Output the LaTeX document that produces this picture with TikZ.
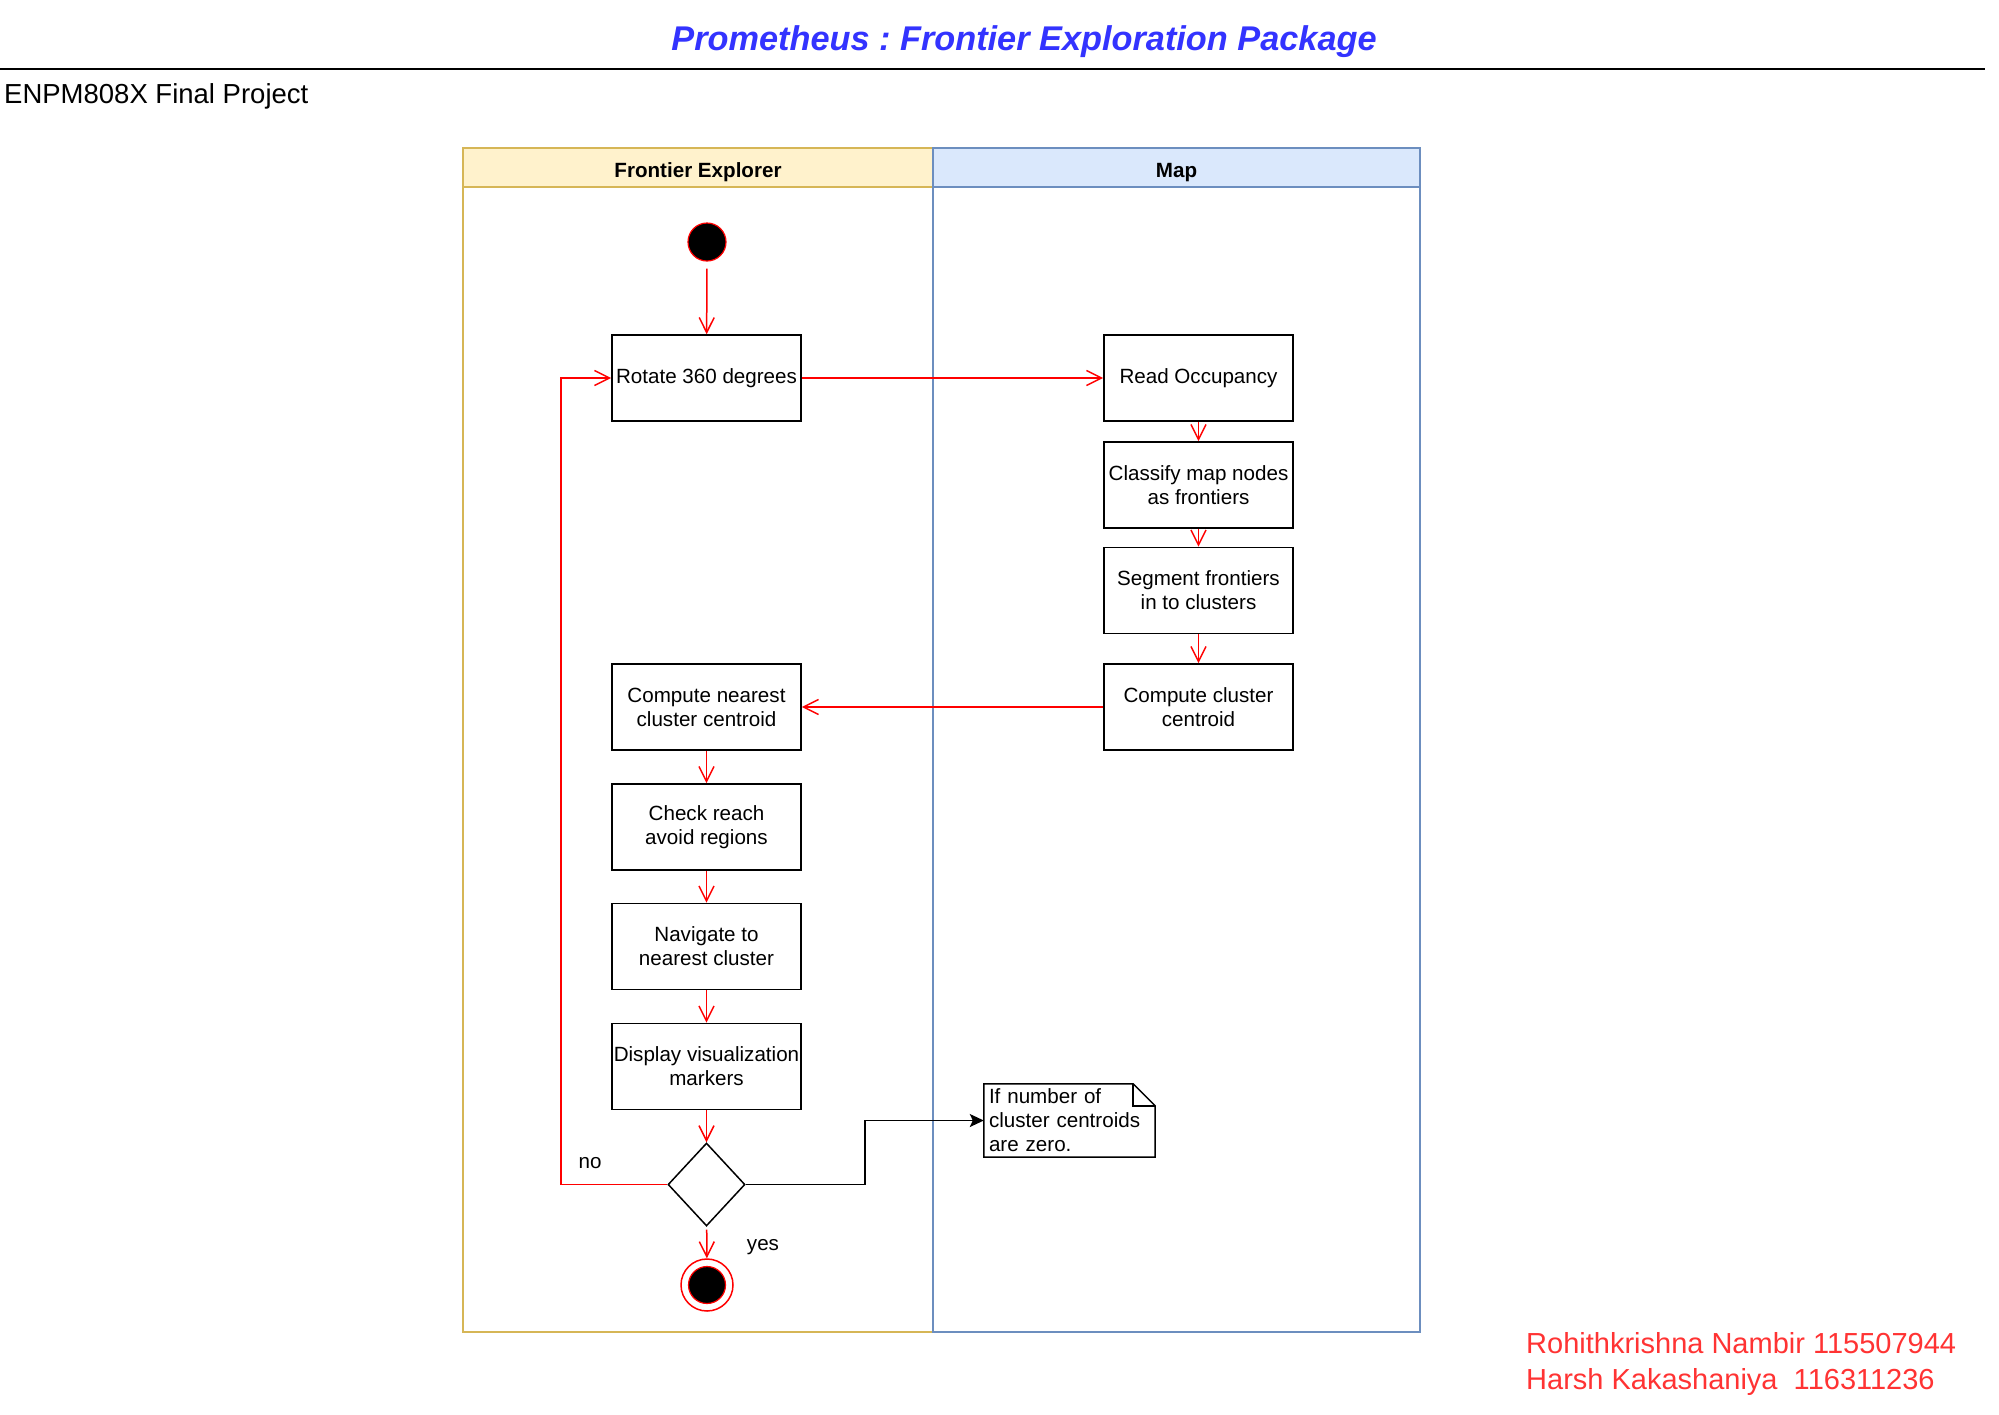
\documentclass[tikz,border=0pt]{standalone}
\usepackage{fontspec}
\setmainfont{Liberation Sans}
\usepackage{tikz}
\usetikzlibrary{arrows.meta}
\usetikzlibrary{shapes.geometric}
\usepackage{xcolor}
\frenchspacing

\definecolor{titleblue}{HTML}{3333FF}
\definecolor{feFill}{HTML}{FFF2CC}
\definecolor{feLine}{HTML}{D6B656}
\definecolor{mapFill}{HTML}{DAE8FC}
\definecolor{mapLine}{HTML}{6C8EBF}
\definecolor{flowRed}{HTML}{FF0000}
\definecolor{nameRed}{HTML}{FF3333}

\newcommand{\boxfont}{\fontsize{20.6}{24}\selectfont}

\begin{document}
\begin{tikzpicture}[x=1pt, y=-1pt,
  every node/.style={font=\boxfont},
  action/.style={draw, line width=1.7pt, minimum width=189pt, minimum height=86pt, align=center, inner sep=1pt},
  flow/.style={draw=flowRed, line width=1.5pt, -{Straight Barb[length=15pt,width=15pt]}},
  lane/.style={line width=1.5pt, inner sep=0pt},
  decision/.style={diamond, draw, line width=1.5pt, minimum width=77pt, minimum height=83pt, inner sep=0pt}]

\useasboundingbox (0,0) rectangle (1999,1414);

\node[font=\fontsize{34.3}{40}\selectfont\bfseries\itshape, text=titleblue] (title) at (1024,42) {Prometheus : Frontier Exploration Package};
\draw[line width=1.7pt] (0,69) -- (1985,69);
\node[anchor = west, inner sep=0pt, font=\fontsize{27.5}{32}\selectfont] (project) at (4,96.5) {ENPM808X Final Project};

% swimlanes
\node[lane, draw=feLine, minimum width=470pt, minimum height=1184pt] (felane) at (698,740) {};
\node[lane, draw=feLine, fill=feFill, minimum width=470pt, minimum height=39pt,
  label={[font=\bfseries\boxfont, yshift=-5pt]center:Frontier Explorer}] (fehead) at (698,167.5) {};
\node[lane, draw=mapLine, minimum width=487pt, minimum height=1184pt] (maplane) at (1176.5,740) {};
\node[lane, draw=mapLine, fill=mapFill, minimum width=487pt, minimum height=39pt,
  label={[font=\bfseries\boxfont, yshift=-5pt]center:Map}] (maphead) at (1176.5,167.5) {};

% frontier explorer
\node[circle, fill=black, draw=flowRed, line width=1.2pt, minimum size=38pt, inner sep=0pt] (start) at (707,242) {};
\node[action] (rotate) at (706.5,378) {Rotate 360 degrees};
\node[action] (nearest) at (706.5,707) {Compute nearest\\cluster centroid};
\node[action] (reach) at (706.5,827) {Check reach\\avoid regions};
\node[action] (navigate) at (706.5,946.5) {Navigate to\\nearest cluster};
\node[action] (display) at (706.5,1066.5) {Display visualization\\markers};
\node[decision] (decide) at (706.5,1184.5) {};
\node[circle, draw=flowRed, line width=1.5pt, minimum size=52pt, inner sep=0pt] (stop) at (707,1285) {};
\fill[black, draw=flowRed, line width=1.2pt] (stop.center) circle (18.5pt);

% map
\node[action] (readocc) at (1198.5,378) {Read Occupancy};
\node[action] (classify) at (1198.5,485) {Classify map nodes\\as frontiers};
\node[action] (segment) at (1198.5,590.5) {Segment frontiers\\in to clusters};
\node[action] (centroid) at (1198.5,707) {Compute cluster\\centroid};

% note
\node[text width=161pt, align=left, inner xsep=5pt, inner ysep=0pt, minimum height=73pt] (note) at (1069.5,1120.5) {If number of\\cluster centroids\\are zero.};
\draw[line width=1.5pt] (note.north west) -- ([xshift=-22pt]note.north east) -- ([yshift=-22pt]note.north east) -- (note.south east) -- (note.south west) -- cycle;
\draw[line width=1.5pt] ([xshift=-22pt]note.north east) -- ([xshift=-22pt,yshift=-22pt]note.north east) -- ([yshift=-22pt]note.north east);

\node (nolabel) at (590,1163) {no};
\node (yeslabel) at (763,1247) {yes};

\node[anchor = west, align=left, inner sep=0pt, text=nameRed, font=\fontsize{29}{36}\selectfont] (authors) at (1526,1364) {Rohithkrishna Nambir 115507944\\Harsh Kakashaniya\ \ 116311236};

% connectors
\coordinate (loopbend) at (561,1184.5);
\coordinate (notebend) at (865,1184.5);

\draw[flow, shorten <=7pt] (start) -- (rotate);
\draw[flow] (rotate) -- (readocc);
\draw[flow] (readocc) -- (classify);
\draw[flow] (classify) -- (segment);
\draw[flow] (segment) -- (centroid);
\draw[flow] (centroid) -- (nearest);
\draw[flow] (nearest) -- (reach);
\draw[flow] (reach) -- (navigate);
\draw[flow] (navigate) -- (display);
\draw[flow] (display) -- (decide);
\draw[flow, shorten <=3pt] (decide) -- (stop);
\draw[flow] (decide.west) -- (loopbend) |- (rotate.west);
\draw[line width=1.5pt, -{Stealth[length=14pt,width=13pt,inset=3pt]}] (decide.east) -- (notebend) |- (note.west);

\end{tikzpicture}
\end{document}
